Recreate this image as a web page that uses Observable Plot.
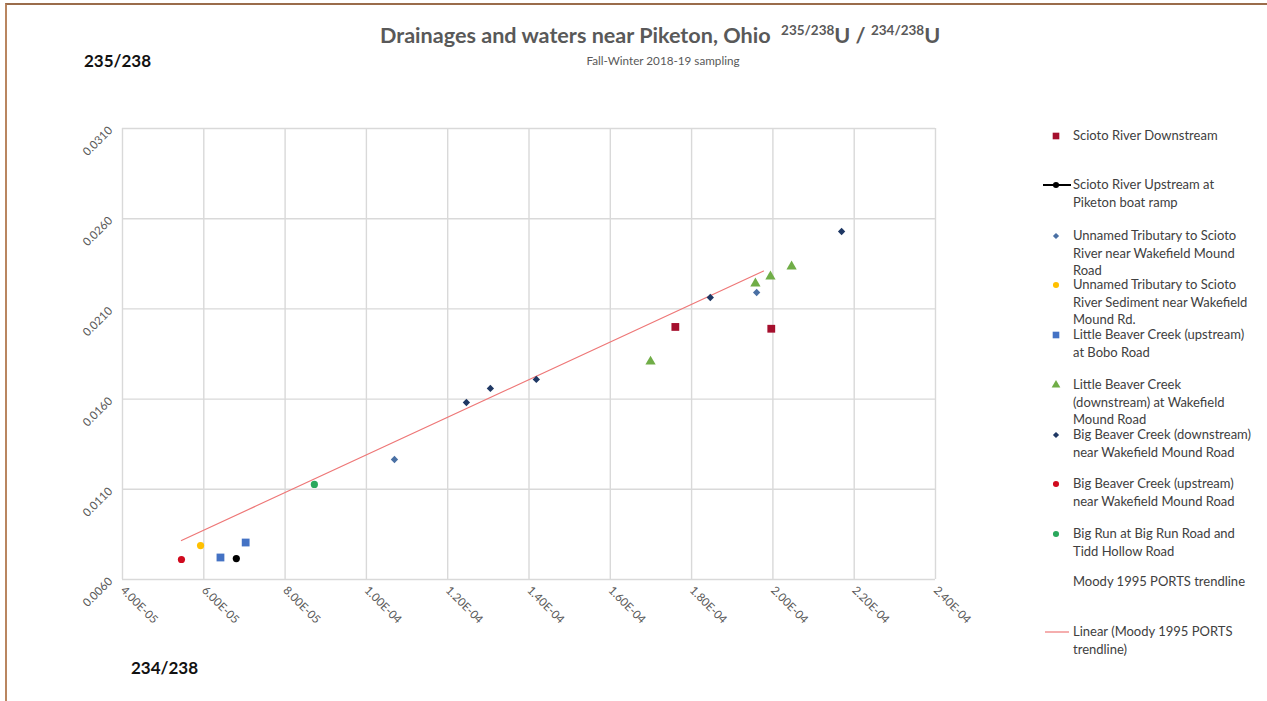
<!DOCTYPE html>
<html>
<head>
<meta charset="utf-8">
<script src="https://cdn.jsdelivr.net/npm/d3@7"></script>
<script src="https://cdn.jsdelivr.net/npm/@observablehq/plot@0.6"></script>
<style>
  body { margin: 0; background: #fff; font-family: Lato, "Open Sans", sans-serif; }
  #page { position: relative; width: 1267px; height: 701px; overflow: hidden; background: #fff; }
  #border { position: absolute; left: 5px; top: 3px; width: 1300px; height: 800px;
            border-left: 2px solid #b98660; border-top: 2px solid #9a6c4b; }
  #chart { position: absolute; left: 0; top: 0; }
  #title { position: absolute; left: 380px; top: 22px; white-space: nowrap; color: #595959;
           font-size: 21.6px; font-weight: bold; }
  #title sup { font-size: 13.5px; vertical-align: 0; position: relative; top: -8px; font-weight: bold; }
  #subtitle { position: absolute; left: 0; width: 1326px; text-align: center; top: 53px; color: #595959;
              font-size: 11.7px; white-space: nowrap; }
  .axlab { position: absolute; font-weight: bold; font-size: 17px; color: #111; white-space: nowrap; }
  .leg { position: absolute; left: 1073px; font-size: 13px; line-height: 17.5px; color: #404040; white-space: nowrap; }
  .legsym { position: absolute; }
</style>
</head>
<body>
<div id="page">
  <div id="border"></div>
  <div id="chart"></div>
  <div id="title">Drainages and waters near Piketon, Ohio&nbsp; <sup>235/238</sup>U / <sup>234/238</sup>U</div>
  <div id="subtitle">Fall-Winter 2018-19 sampling</div>
  <div class="axlab" style="left:84px;top:50px;">235/238</div>
  <div class="axlab" style="left:131px;top:657px;">234/238</div>
  <div id="legend"></div>
</div>
<script>
// ---------- data ----------
const seriesNames = [
  "Scioto River Downstream",
  "Scioto River Upstream at Piketon boat ramp",
  "Unnamed Tributary to Scioto River near Wakefield Mound Road",
  "Unnamed Tributary to Scioto River Sediment near Wakefield Mound Rd.",
  "Little Beaver Creek (upstream) at Bobo Road",
  "Little Beaver Creek (downstream) at Wakefield Mound Road",
  "Big Beaver Creek (downstream) near Wakefield Mound Road",
  "Big Beaver Creek (upstream) near Wakefield Mound Road",
  "Big Run at Big Run Road and Tidd Hollow Road"
];
const sciotoDownX = [1.760e-4, 1.996e-4];
const sciotoDownY = [0.0200, 0.0199];
const sciotoUpX = [6.80e-5];
const sciotoUpY = [0.00716];
const unnamedTribX = [1.069e-4, 1.960e-4];
const unnamedTribY = [0.01265, 0.02191];
const unnamedSedX = [5.92e-5];
const unnamedSedY = [0.00788];
const littleBeaverUpX = [6.41e-5, 7.03e-5];
const littleBeaverUpY = [0.00722, 0.00805];
const littleBeaverDownX = [1.699e-4, 1.957e-4, 1.994e-4, 2.046e-4];
const littleBeaverDownY = [0.01808, 0.02241, 0.02280, 0.02335];
const bigBeaverDownX = [1.246e-4, 1.305e-4, 1.418e-4, 1.846e-4, 2.169e-4];
const bigBeaverDownY = [0.01581, 0.01659, 0.01709, 0.02163, 0.02529];
const bigBeaverUpX = [5.45e-5];
const bigBeaverUpY = [0.00711];
const bigRunX = [8.72e-5];
const bigRunY = [0.01127];
// Linear (Moody 1995 PORTS trendline) end points
const trendX = [5.45e-5, 1.977e-4];
const trendY = [0.00816, 0.0231];
// tick values
const xTicks = [4e-5, 6e-5, 8e-5, 1.0e-4, 1.2e-4, 1.4e-4, 1.6e-4, 1.8e-4, 2.0e-4, 2.2e-4, 2.4e-4];
const yTicks = [0.0060, 0.0110, 0.0160, 0.0210, 0.0260, 0.0310];
// legend text (wrapped as in the reference)
const legendLines = [
  ["Scioto River Downstream"],
  ["Scioto River Upstream at", "Piketon boat ramp"],
  ["Unnamed Tributary to Scioto", "River near Wakefield Mound", "Road"],
  ["Unnamed Tributary to Scioto", "River Sediment near Wakefield", "Mound Rd."],
  ["Little Beaver Creek (upstream)", "at Bobo Road"],
  ["Little Beaver Creek", "(downstream) at Wakefield", "Mound Road"],
  ["Big Beaver Creek (downstream)", "near Wakefield Mound Road"],
  ["Big Beaver Creek (upstream)", "near Wakefield Mound Road"],
  ["Big Run at Big Run Road and", "Tidd Hollow Road"],
  ["Moody 1995 PORTS trendline"],
  ["Linear (Moody 1995 PORTS", "trendline)"]
];

// ---------- styles ----------
const seriesStyle = [
  {symbol: "square", fill: "#a50f2d", r: 4.4},
  {symbol: "circle", fill: "#000000", r: 3.6},
  {symbol: "diamond2", fill: "#4a70a4", r: 3.3},
  {symbol: "circle", fill: "#ffc000", r: 3.6},
  {symbol: "square", fill: "#4472c4", r: 4.4},
  {symbol: "triangle", fill: "#70ad47", r: 3.8},
  {symbol: "diamond2", fill: "#1f3864", r: 3.3},
  {symbol: "circle", fill: "#d00a1e", r: 3.6},
  {symbol: "circle", fill: "#2aa85c", r: 3.6}
];
const xsAll = [sciotoDownX, sciotoUpX, unnamedTribX, unnamedSedX, littleBeaverUpX, littleBeaverDownX, bigBeaverDownX, bigBeaverUpX, bigRunX];
const ysAll = [sciotoDownY, sciotoUpY, unnamedTribY, unnamedSedY, littleBeaverUpY, littleBeaverDownY, bigBeaverDownY, bigBeaverUpY, bigRunY];

const fmtX = d => {
  const [m, e] = d.toExponential(2).split("e");
  const sign = e[0] === "-" ? "-" : "+";
  const digits = e.replace(/^[+-]/, "").padStart(2, "0");
  return m + "E" + sign + digits;
};
const fmtY = d => d.toFixed(4);

const dotMarks = seriesNames.map((name, i) => {
  const rows = xsAll[i].map((x, j) => ({series: name, x, y: ysAll[i][j]}));
  const s = seriesStyle[i];
  return Plot.dot(rows, {x: "x", y: "y", symbol: s.symbol, fill: s.fill, r: s.r, stroke: "none"});
});
const trendRows = trendX.map((x, j) => ({x, y: trendY[j]}));

const plot = Plot.plot({
  width: 1267,
  height: 701,
  marginLeft: 122,
  marginRight: 332,
  marginTop: 128,
  marginBottom: 122,
  style: {background: "transparent", fontFamily: "Lato, 'Open Sans', sans-serif", fontSize: "11px", color: "#595959", overflow: "visible"},
  x: {type: "linear", domain: [4e-5, 2.4e-4], axis: null},
  y: {type: "linear", domain: [0.006, 0.031], axis: null},
  marks: [
    Plot.gridX(xTicks, {stroke: "#d9d9d9", strokeOpacity: 1, strokeWidth: 1.4}),
    Plot.gridY(yTicks, {stroke: "#d9d9d9", strokeOpacity: 1, strokeWidth: 1.4}),
    Plot.axisX(xTicks, {tickFormat: fmtX, tickRotate: 45, tickSize: 0, tickPadding: 9, fill: "#595959", fontSize: 11.5, label: null}),
    Plot.axisY(yTicks, {tickFormat: fmtY, tickRotate: -45, tickSize: 0, tickPadding: 12, fill: "#595959", fontSize: 11.5, label: null}),
    Plot.line(trendRows, {x: "x", y: "y", stroke: "#ee7777", strokeWidth: 1.2}),
    ...dotMarks
  ]
});
document.getElementById("chart").appendChild(plot);

// ---------- legend ----------
const legendTop = [136, 185, 236, 285, 335, 385, 435, 484, 534, 582, 632];
const legend = document.getElementById("legend");
legendLines.forEach((lines, i) => {
  const cy = legendTop[i];
  const div = document.createElement("div");
  div.className = "leg";
  div.style.top = (cy - 9) + "px";
  div.innerHTML = lines.join("<br>");
  legend.appendChild(div);
  const svg = d3.create("svg").attr("class", "legsym")
    .attr("width", 40).attr("height", 20)
    .style("left", "1040px").style("top", (cy - 10) + "px");
  if (i < seriesNames.length) {
    const s = seriesStyle[i];
    const symMap = {square: d3.symbolSquare, circle: d3.symbolCircle, diamond2: d3.symbolDiamond2, triangle: d3.symbolTriangle};
    if (i === 1) {
      svg.append("line").attr("x1", 3).attr("x2", 31).attr("y1", 10).attr("y2", 10).attr("stroke", "#000").attr("stroke-width", 2);
    }
    svg.append("path").attr("transform", "translate(16,10)")
      .attr("d", d3.symbol(symMap[s.symbol], Math.PI * (s.r * 0.85) ** 2)())
      .attr("fill", s.fill);
  } else if (i === legendLines.length - 1) {
    svg.append("line").attr("x1", 5).attr("x2", 29).attr("y1", 10).attr("y2", 10).attr("stroke", "#ee7777").attr("stroke-width", 1.2);
  }
  legend.appendChild(svg.node());
});
</script>
</body>
</html>
